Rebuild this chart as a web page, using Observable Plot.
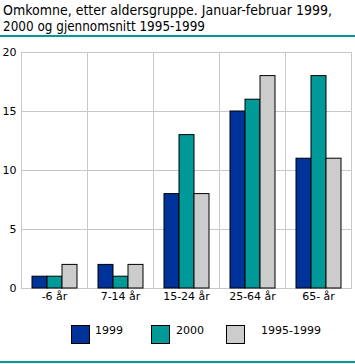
<!DOCTYPE html>
<html><head><meta charset="utf-8">
<script src="https://cdn.jsdelivr.net/npm/d3@7"></script>
<script src="https://cdn.jsdelivr.net/npm/@observablehq/plot@0.6"></script>
<style>
body{margin:0;background:#fff;font-family:"DejaVu Sans",Verdana,sans-serif;}
#wrap{position:relative;width:355px;height:364px;overflow:hidden;}
#title{position:absolute;left:0;top:0;overflow:visible;}
#line1{position:absolute;left:0;top:35px;width:355px;height:2px;background:#009999;}
#line2{position:absolute;left:0;top:361px;width:355px;height:2px;background:#009999;}
#chart{position:absolute;left:0;top:40px;}
.lg{position:absolute;font-size:11px;}
.sw{position:absolute;width:17px;height:17px;border:1px solid #000;}
</style></head><body>
<div id="wrap">
<svg id="title" width="355" height="35" font-family="DejaVu Sans, Verdana, sans-serif" font-size="13.2">
  <text x="3" y="15" textLength="329" lengthAdjust="spacingAndGlyphs">Omkomne, etter aldersgruppe. Januar-februar 1999,</text>
  <text x="3" y="31" textLength="202" lengthAdjust="spacingAndGlyphs">2000 og gjennomsnitt 1995-1999</text>
</svg>
<div id="line1"></div>
<div id="chart"></div>
<div id="legend"></div>
<div id="line2"></div>
</div>
<script>
const categories = ["-6 år","7-14 år","15-24 år","25-64 år","65- år"];
const series = ["1999","2000","1995-1999"];
const v1999 = [1,2,8,15,11];
const v2000 = [1,1,13,16,18];
const vAvg = [2,2,8,18,11];
const colors = ["#003399","#009999","#cccccc"];
const yTicks = [0,5,10,15,20];

const vals = [v1999, v2000, vAvg];
const data = [];
categories.forEach((c,i)=>series.forEach((s,j)=>data.push({cat:c, ser:s, value:vals[j][i]})));

const chart = Plot.plot({
  width:355, height:270,
  marginTop:12, marginBottom:22, marginLeft:20, marginRight:3,
  style:{fontFamily:'"DejaVu Sans",Verdana,sans-serif', fontSize:"11px", color:"#000", background:"#fff"},
  fx:{domain:categories, padding:0, label:null, axis:"bottom", tickSize:0, tickPadding:4},
  x:{domain:series, paddingInner:0, paddingOuter:0.64, axis:null},
  y:{domain:[0,20], ticks:yTicks, label:null, tickSize:0, tickPadding:5},
  color:{domain:series, range:colors},
  marks:[
    Plot.gridY(yTicks,{stroke:"#c8c8c8", strokeOpacity:1}),
    Plot.frame({stroke:"#c8c8c8"}),
    Plot.barY(data,{fx:"cat", x:"ser", y:"value", fill:"ser", stroke:"#000", strokeWidth:1, inset:0})
  ]
});
document.getElementById("chart").appendChild(chart);

const lg = document.getElementById("legend");
const swX = [71,151,226], txX = [95,176,261];
series.forEach((s,i)=>{
  const sw = document.createElement("div"); sw.className="sw";
  sw.style.left=swX[i]+"px"; sw.style.top="325px"; sw.style.background=colors[i];
  lg.appendChild(sw);
  const t = document.createElement("div"); t.className="lg";
  t.style.left=txX[i]+"px"; t.style.top="324px"; t.textContent=s;
  lg.appendChild(t);
});
</script>
</body></html>
